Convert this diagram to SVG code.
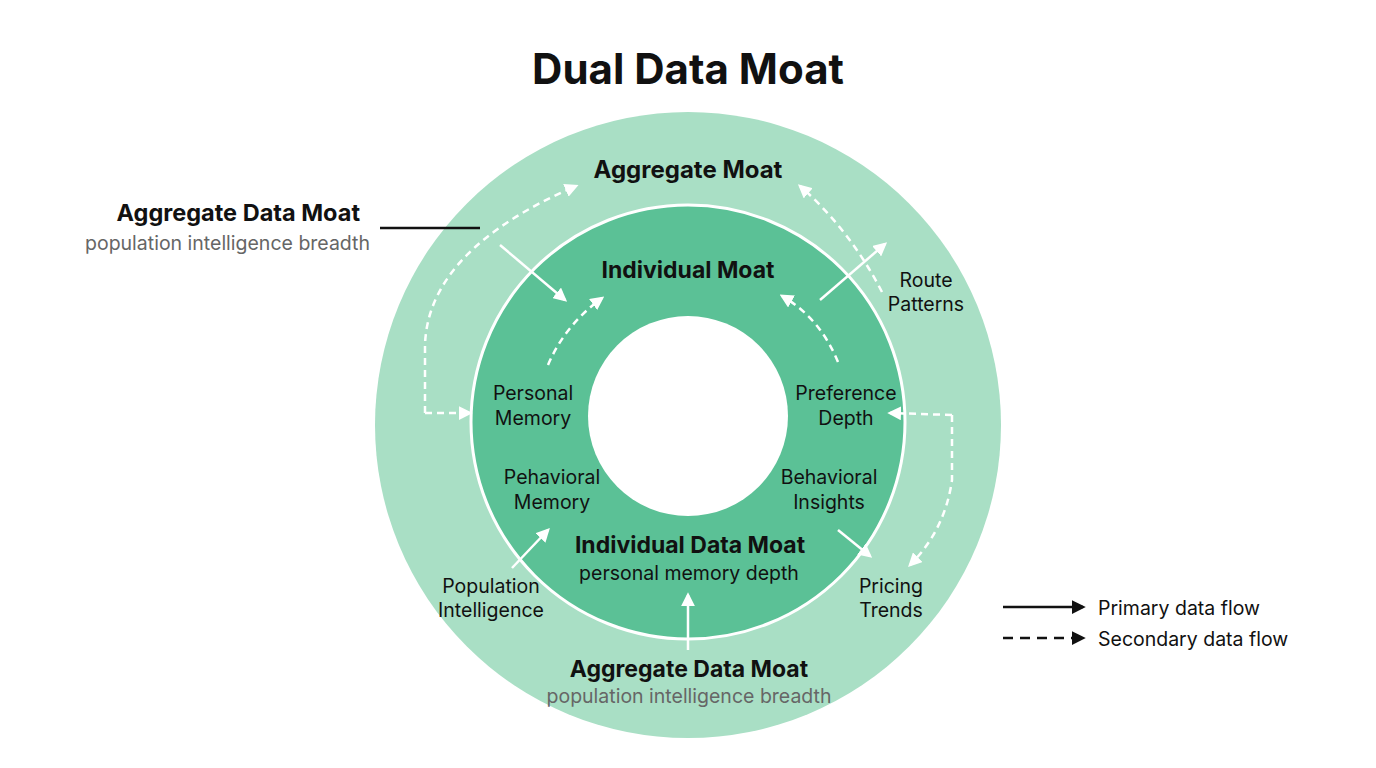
<svg xmlns="http://www.w3.org/2000/svg" width="1376" height="768" viewBox="0 0 1376 768">
<style>
text{font-family:Inter,"Noto Sans",sans-serif;fill:#111}
.b{font-weight:700}
.g{fill:#666}
.w{stroke:#fff;stroke-width:2.5;fill:none}
.d{stroke-dasharray:7 5}
.k{stroke:#111;stroke-width:2.5;fill:none}
</style>
<defs>
<marker id="aw" viewBox="0 0 10 10" refX="8" refY="5" markerWidth="5.5" markerHeight="5.5" orient="auto"><path d="M0,0L10,5L0,10z" fill="#fff"/></marker>
<marker id="ak" viewBox="0 0 10 10" refX="8" refY="5" markerWidth="5.5" markerHeight="5.5" orient="auto"><path d="M0,0L10,5L0,10z" fill="#111"/></marker>
</defs>
<rect width="1376" height="768" fill="#fff"/>
<text x="688" y="84" text-anchor="middle" class="b" font-size="42">Dual Data Moat</text>
<g id="outer"><circle cx="688" cy="425" r="313" fill="#a9dfc5"/></g>
<g id="inner"><circle cx="688" cy="422" r="217" fill="#5bc196" stroke="#fff" stroke-width="3"/></g>
<g id="hole"><circle cx="688" cy="416" r="100" fill="#fff"/></g>
<g id="connectors">
<path class="w" d="M500,245L565,300" marker-end="url(#aw)"/>
<path class="w d" d="M548,365Q565,325 602,298" marker-end="url(#aw)"/>
<path class="w d" d="M425,413L425,345Q428,250 576,186" marker-end="url(#aw)"/>
<path class="w d" d="M425,413L470,413" marker-end="url(#aw)"/>
<path class="w d" d="M882,292Q850,230 800,186" marker-end="url(#aw)"/>
<path class="w" d="M820,300L885,244" marker-end="url(#aw)"/>
<path class="w d" d="M838,362Q820,318 782,296" marker-end="url(#aw)"/>
<path class="w d" d="M952,415L890,413" marker-end="url(#aw)"/>
<path class="w d" d="M952,415L952,480Q945,530 910,565" marker-end="url(#aw)"/>
<path class="w" d="M838,530L870,556" marker-end="url(#aw)"/>
<path class="w" d="M512,568L548,530" marker-end="url(#aw)"/>
<path class="w" d="M688,650L688,595" marker-end="url(#aw)"/>
<path class="k" d="M380,228L480,228"/>
<path class="k" d="M1003,607L1083,607" marker-end="url(#ak)"/>
<path class="k" d="M1003,638L1083,638" stroke-dasharray="10 7" marker-end="url(#ak)"/>
</g>
<g id="labels" font-size="19.5">
<text x="688" y="178" text-anchor="middle" class="b" font-size="24">Aggregate Moat</text>
<text x="688" y="278" text-anchor="middle" class="b" font-size="23">Individual Moat</text>
<text x="360" y="221" text-anchor="end" class="b" font-size="23.5">Aggregate Data Moat</text>
<text x="370" y="250" text-anchor="end" class="g">population intelligence breadth</text>
<text x="926" y="287" text-anchor="middle">Route</text>
<text x="926" y="311" text-anchor="middle">Patterns</text>
<text x="533" y="400" text-anchor="middle">Personal</text>
<text x="533" y="425" text-anchor="middle">Memory</text>
<text x="846" y="400" text-anchor="middle">Preference</text>
<text x="846" y="425" text-anchor="middle">Depth</text>
<text x="552" y="484" text-anchor="middle">Pehavioral</text>
<text x="552" y="509" text-anchor="middle">Memory</text>
<text x="829" y="484" text-anchor="middle">Behavioral</text>
<text x="829" y="509" text-anchor="middle">Insights</text>
<text x="690" y="553" text-anchor="middle" class="b" font-size="23">Individual Data Moat</text>
<text x="689" y="580" text-anchor="middle">personal memory depth</text>
<text x="491" y="593" text-anchor="middle">Population</text>
<text x="491" y="617" text-anchor="middle">Intelligence</text>
<text x="891" y="593" text-anchor="middle">Pricing</text>
<text x="891" y="617" text-anchor="middle">Trends</text>
<text x="689" y="677" text-anchor="middle" class="b" font-size="23">Aggregate Data Moat</text>
<text x="689" y="703" text-anchor="middle" class="g">population intelligence breadth</text>
<text x="1098" y="615">Primary data flow</text>
<text x="1098" y="646">Secondary data flow</text>
</g>
</svg>
